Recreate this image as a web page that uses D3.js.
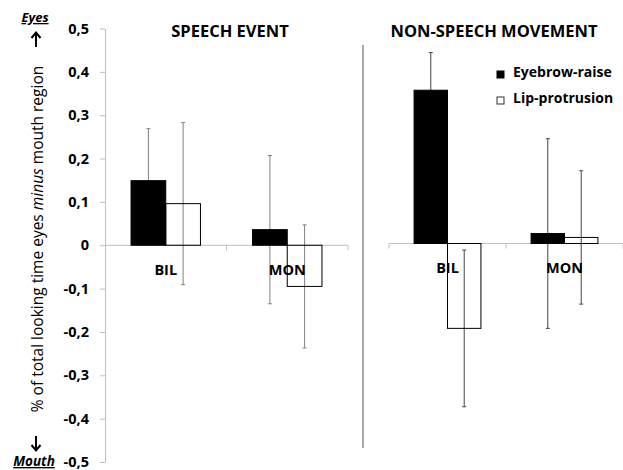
<!DOCTYPE html>
<html>
<head>
<meta charset="utf-8">
<script src="https://cdn.jsdelivr.net/npm/d3@7"></script>
<style>
	body { margin: 0; background: #fff; }
	text { font-family: "Open Sans", sans-serif; }
</style>
</head>
<body>
<svg></svg>
<script>
const categories = ["BIL", "MON"];
const series = ["Eyebrow-raise", "Lip-protrusion"];
const panelTitles = ["SPEECH EVENT", "NON-SPEECH MOVEMENT"];

// speech event
const speechEyebrow = [0.149, 0.036];
const speechEyebrowErr = [0.12, 0.171];
const speechLip = [0.096, -0.095];
const speechLipErr = [0.187, 0.142];

// non-speech movement
const nonSpeechEyebrow = [0.354, 0.023];
const nonSpeechEyebrowErr = [0.087, 0.219];
const nonSpeechLip = [-0.196, 0.014];
const nonSpeechLipErr = [0.181, 0.154];

const yTicks = [0.5, 0.4, 0.3, 0.2, 0.1, 0, -0.1, -0.2, -0.3, -0.4, -0.5];
const yTickLabels = ["0,5", "0,4", "0,3", "0,2", "0,1", "0", "-0,1", "-0,2", "-0,3", "-0,4", "-0,5"];

const width = 623;
const height = 470;

const svg = d3.select('svg')
	.attr('width', width)
	.attr('height', height);

const panels = [
	{title: panelTitles[0], titleX: 230, xRange: [105, 348], yRange: [462, 28.5], errColor: '#808080', labelY: 275,
		values: [speechEyebrow, speechLip], errs: [speechEyebrowErr, speechLipErr], startTick: false},
	{title: panelTitles[1], titleX: 494, xRange: [389, 623], yRange: [460, 27], errColor: '#444', labelY: 273,
		values: [nonSpeechEyebrow, nonSpeechLip], errs: [nonSpeechEyebrowErr, nonSpeechLipErr], startTick: true}
];

panels.forEach((p, pi) => {
	const x0 = d3.scaleBand().domain(categories).range(p.xRange);
	const x1 = d3.scaleBand().domain(series).range([0, x0.bandwidth()]).paddingOuter(0.75);
	const y = d3.scaleLinear().domain([-0.5, 0.5]).range(p.yRange);
	const g = svg.append('g');

	// x axis line at zero
	g.append('line')
		.attr('x1', p.xRange[0]).attr('x2', p.xRange[1])
		.attr('y1', y(0)).attr('y2', y(0))
		.attr('stroke', '#bfbfbf');
	const tickXs = categories.map(c => x0(c) + x0.bandwidth());
	if (p.startTick) tickXs.unshift(p.xRange[0]);
	g.selectAll('.xt').data(tickXs).enter().append('line')
		.attr('x1', d => d).attr('x2', d => d)
		.attr('y1', y(0)).attr('y2', y(0) + 5)
		.attr('stroke', '#bfbfbf');

	const rows = [];
	series.forEach((s, si) => {
		categories.forEach((c, ci) => {
			rows.push({s: s, si: si, c: c, v: p.values[si][ci], e: p.errs[si][ci]});
		});
	});

	// error bars first so the black bars cover them
	const eg = g.append('g').attr('stroke', p.errColor).attr('stroke-width', 1);
	rows.forEach(d => {
		const cx = x0(d.c) + x1(d.s) + x1.bandwidth() / 2;
		eg.append('line').attr('x1', cx).attr('x2', cx)
			.attr('y1', y(d.v + d.e)).attr('y2', y(d.v - d.e));
		[d.v + d.e, d.v - d.e].forEach(v => {
			eg.append('line').attr('x1', cx - 2).attr('x2', cx + 2)
				.attr('y1', y(v)).attr('y2', y(v));
		});
	});

	g.selectAll('.bar').data(rows).enter().append('rect')
		.attr('x', d => x0(d.c) + x1(d.s))
		.attr('y', d => y(Math.max(0, d.v)))
		.attr('width', x1.bandwidth())
		.attr('height', d => Math.abs(y(d.v) - y(0)))
		.attr('fill', d => d.si === 0 ? '#000' : 'none')
		.attr('stroke', '#000')
		.attr('stroke-width', 1);

	g.selectAll('.cat').data(categories).enter().append('text')
		.attr('x', c => x0(c) + x0.bandwidth() / 2)
		.attr('y', p.labelY)
		.attr('text-anchor', 'middle')
		.attr('font-size', 14.5)
		.attr('font-weight', 'bold')
		.text(c => c);

	g.append('text')
		.attr('x', p.titleX).attr('y', 37)
		.attr('text-anchor', 'middle')
		.attr('font-size', 16.5)
		.attr('font-weight', 'bold')
		.text(p.title);

	if (pi === 0) {
		const axis = d3.axisLeft(y)
			.tickValues(yTicks)
			.tickFormat((d, i) => yTickLabels[i])
			.tickSize(5)
			.tickSizeOuter(0)
			.tickPadding(11);
		const ag = g.append('g').attr('transform', `translate(${p.xRange[0]},0)`).call(axis);
		ag.select('.domain').attr('stroke', '#bfbfbf');
		ag.selectAll('.tick line').attr('stroke', '#bfbfbf');
		ag.selectAll('.tick text')
			.attr('font-family', '"Open Sans", sans-serif')
			.attr('font-size', 14.5)
			.attr('font-weight', 'bold')
			.attr('fill', '#000');
	}
});

// separator line between panels
svg.append('line')
	.attr('x1', 363).attr('x2', 363)
	.attr('y1', 45).attr('y2', 448)
	.attr('stroke', '#555');

// legend
const legend = svg.append('g');
series.forEach((s, i) => {
	legend.append('rect')
		.attr('x', 497).attr('y', 71 + i * 26)
		.attr('width', 7).attr('height', 7)
		.attr('fill', i === 0 ? '#000' : '#fff')
		.attr('stroke', i === 0 ? '#000' : '#333');
	legend.append('text')
		.attr('x', 513).attr('y', 77 + i * 26)
		.attr('font-size', 14)
		.attr('font-weight', 'bold')
		.text(s);
});

// y axis title
const yTitle = svg.append('text')
	.attr('transform', 'translate(43,239) rotate(-90)')
	.attr('text-anchor', 'middle')
	.attr('font-size', 15.5);
yTitle.append('tspan').text('% of total looking time eyes ');
yTitle.append('tspan').attr('font-style', 'italic').text('minus');
yTitle.append('tspan').text(' mouth region');

svg.append('text')
	.attr('x', 35).attr('y', 22)
	.attr('text-anchor', 'middle')
	.attr('font-size', 13)
	.attr('font-weight', 'bold')
	.attr('font-style', 'italic')
	.attr('text-decoration', 'underline')
	.text('Eyes');
svg.append('text')
	.attr('x', 34).attr('y', 466)
	.attr('text-anchor', 'middle')
	.attr('font-size', 13.5)
	.attr('font-weight', 'bold')
	.attr('font-style', 'italic')
	.attr('text-decoration', 'underline')
	.text('Mouth');

// arrows next to the axis title
const arrows = svg.append('g').attr('stroke', '#000').attr('stroke-width', 2).attr('fill', 'none');
arrows.append('path').attr('d', 'M36,47 L36,33 M31.5,38 L36,32.5 L40.5,38');
arrows.append('path').attr('d', 'M36,436 L36,450 M31.5,445 L36,450.5 L40.5,445');
</script>
</body>
</html>
